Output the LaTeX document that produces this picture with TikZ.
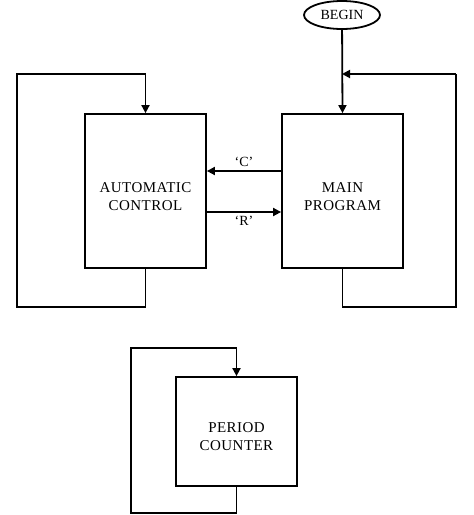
\documentclass[tikz,border=0pt]{standalone}
\usepackage{fontspec}
\setmainfont{Liberation Serif}
\usetikzlibrary{arrows.meta,shapes.geometric}

\tikzset{
  block/.style={draw, line width=1.8pt, rectangle},
  blocktext/.style={align=center, font=\fontsize{15}{18}\selectfont\addfontfeature{LetterSpace=3}},
  arr/.style={line width=1.8pt, -{Triangle[length=8pt,width=8pt]}},
  wire/.style={line width=1.8pt},
  tag/.style={font=\fontsize{14}{16}\selectfont}
}

\begin{document}
\begin{tikzpicture}[x=1pt, y=-1pt]
        \useasboundingbox (0,0) rectangle (474,515);

        \node[block, minimum width=121pt, minimum height=154pt] (ac) at (145.5, 191) {};
        \node[block, minimum width=121pt, minimum height=154pt] (mp) at (342.5, 191) {};
        \node[block, minimum width=121pt, minimum height=109pt] (pc) at (236.5, 431.5) {};
        \node[blocktext] (actext) at (145.5, 197) {AUTOMATIC\\CONTROL};
        \node[blocktext] (mptext) at (342.5, 197) {MAIN\\PROGRAM};
        \node[blocktext] (pctext) at (236.5, 437) {PERIOD\\COUNTER};
        \node[draw, line width=1.8pt, ellipse, minimum width=76pt, minimum height=28pt, inner sep=1pt, font=\fontsize{14}{16}\selectfont] (begin) at (342, 15) {BEGIN};

        \coordinate (join) at (342, 74);

        % feedback loops
        \draw[arr] (ac.south) -- (145.5, 307) -| (17, 74) -| (ac.north);
        \draw[wire] (mp.south) -- (342.5, 307) -| (456, 74);
        \draw[arr] (456, 74) -- (join);
        \draw[arr] (pc.south) -- (236.5, 513) -| (131, 348) -| (pc.north);

        \draw[arr] (begin) -- (mp.north);

        % handshake
        \draw[arr] (mp.west |- 0, 171) -- node[above, tag]{‘C’} (ac.east |- 0, 171);
        \draw[arr] (ac.east |- 0, 212) -- node[below, tag]{‘R’} (mp.west |- 0, 212);
\end{tikzpicture}
\end{document}
